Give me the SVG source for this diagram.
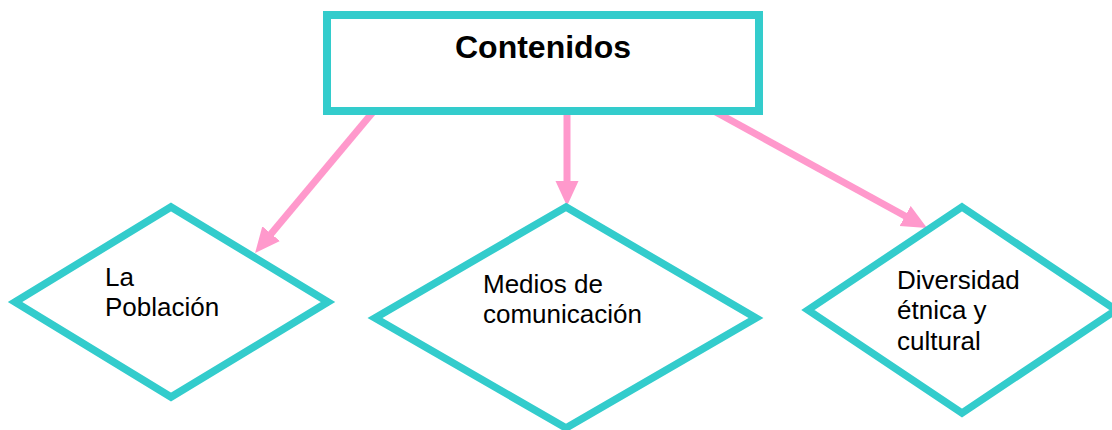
<svg xmlns="http://www.w3.org/2000/svg" width="1112" height="430" viewBox="0 0 1112 430">
<style>
.node{fill:#FFFFFF;stroke:#33CCCC;stroke-width:8;stroke-linejoin:miter}
.dia{fill:#FFFFFF;stroke:#33CCCC;stroke-width:7.5;stroke-linejoin:miter}
.conn{stroke:#FF99CC;stroke-width:7;fill:none}
.head{fill:#FF99CC}
.t{font-family:"Liberation Sans",Arial,sans-serif;font-size:26px;fill:#000000}
.title{font-family:"Liberation Sans",Arial,sans-serif;font-size:32px;font-weight:bold;fill:#000000;text-anchor:middle}
</style>
<defs>
<marker id="ah" markerUnits="userSpaceOnUse" markerWidth="26" markerHeight="24" refX="1" refY="11.5" orient="auto">
<path class="head" d="M0,0 L25,11.5 L0,23 Z"/>
</marker>
</defs>
<rect width="1112" height="430" fill="#FFFFFF"/>
<g id="connectors">
<line class="conn" x1="373" y1="112" x2="270.5" y2="234.5" marker-end="url(#ah)"/>
<line class="conn" x1="567" y1="110" x2="567" y2="182" marker-end="url(#ah)"/>
<line class="conn" x1="712" y1="110" x2="906" y2="216.5" marker-end="url(#ah)"/>
</g>
<g id="contenidos">
<rect class="node" x="327" y="15" width="432" height="96"/>
<text class="title" x="543" y="58">Contenidos</text>
</g>
<g id="la-poblacion">
<polygon class="dia" points="171,207 328,302 171,397 15,302"/>
<text class="t" x="105" y="286">La</text>
<text class="t" x="105" y="316">Población</text>
</g>
<g id="medios">
<polygon class="dia" points="566,207 756,318 566,428 375,318"/>
<text class="t" x="483" y="293">Medios de</text>
<text class="t" x="483" y="323">comunicación</text>
</g>
<g id="diversidad">
<polygon class="dia" points="962,207 1116,310 962,413 808,310"/>
<text class="t" x="897" y="289">Diversidad</text>
<text class="t" x="897" y="319">étnica y</text>
<text class="t" x="897" y="350">cultural</text>
</g>
</svg>
